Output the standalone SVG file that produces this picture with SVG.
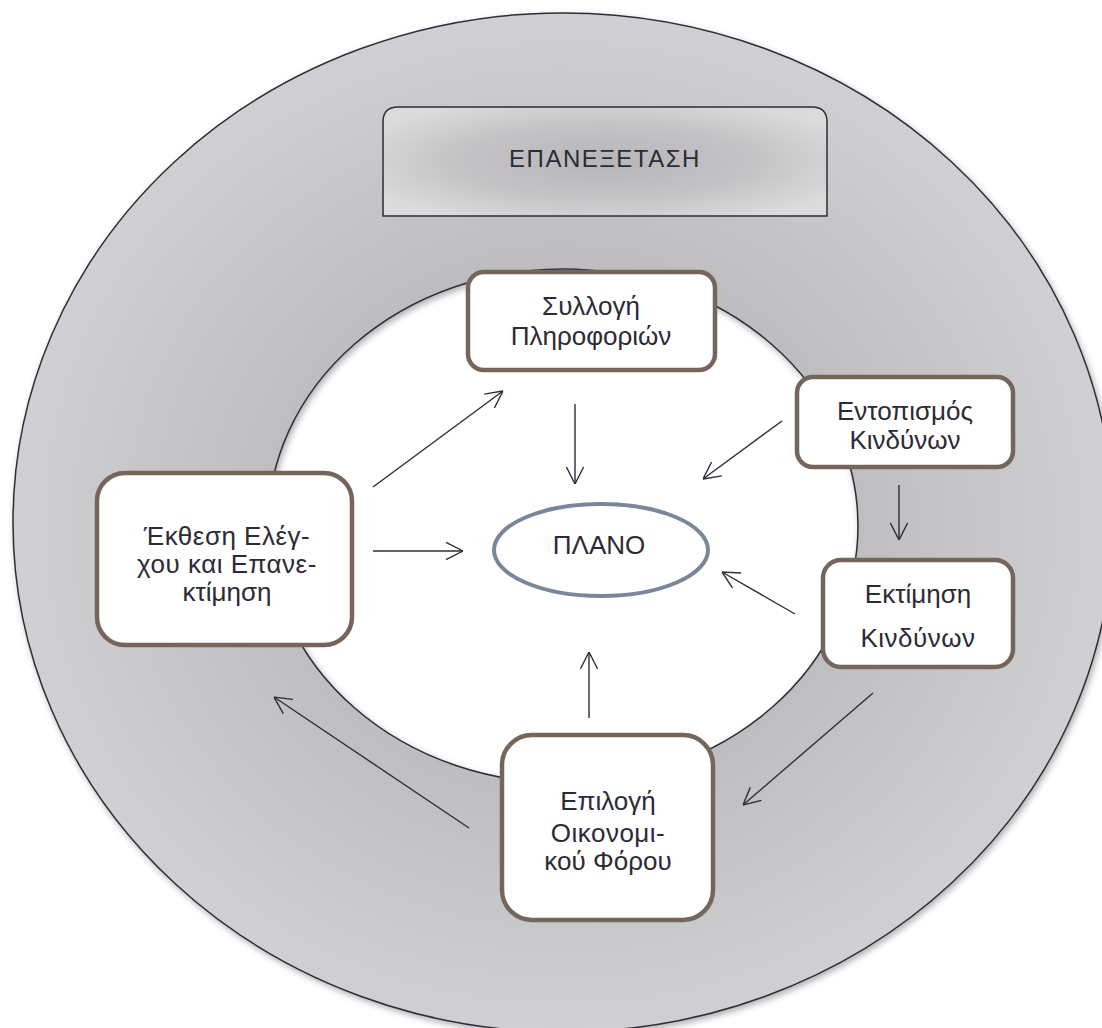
<svg xmlns="http://www.w3.org/2000/svg" width="1102" height="1028" viewBox="0 0 1102 1028">
  <style>
    .lbl { font-family: "Liberation Sans", Arial, sans-serif; font-size: 26px; fill: #2b2b36; text-anchor: middle; }
    .title { font-size: 24px; letter-spacing: 1.5px; }
    .box { fill: #ffffff; stroke: #76655a; stroke-width: 4.5; }
    .edge { stroke: #2d2d3a; stroke-width: 1.4; fill: none; marker-end: url(#head); }
  </style>
  <defs>
    <radialGradient id="ringFill" cx="0.5" cy="0.5" r="0.5">
      <stop offset="0.5" stop-color="#bdbdc0"/>
      <stop offset="1" stop-color="#d0d0d2"/>
    </radialGradient>
    <radialGradient id="bannerFill" cx="0.5" cy="0.5" r="0.6">
      <stop offset="0" stop-color="#b6b6b8"/>
      <stop offset="0.55" stop-color="#c3c3c5"/>
      <stop offset="1" stop-color="#dbdbdc"/>
    </radialGradient>
    <filter id="softShadow" x="-5%" y="-5%" width="110%" height="110%">
      <feDropShadow dx="2" dy="3" stdDeviation="3" flood-color="#000000" flood-opacity="0.3"/>
    </filter>
    <marker id="head" markerUnits="userSpaceOnUse" viewBox="0 0 20 20" markerWidth="20" markerHeight="20" refX="20" refY="10" orient="auto">
      <path d="M3,1.4 L20,10 L3,18.6" fill="none" stroke="#2d2d3a" stroke-width="1.4"/>
    </marker>
  </defs>

  <!-- review ring -->
  <g id="ring">
    <path d="M13,522.5 a550,509.5 0 1,0 1100,0 a550,509.5 0 1,0 -1100,0 Z M268,526 a295,257 0 1,0 590,0 a295,257 0 1,0 -590,0 Z"
          fill="url(#ringFill)" fill-rule="evenodd" stroke="#2d2d3a" stroke-width="1.5" filter="url(#softShadow)"/>
  </g>

  <!-- review banner -->
  <g id="review">
    <path d="M383,216 L383,122 Q383,107 398,107 L812,107 Q827,107 827,122 L827,216 Z" fill="url(#bannerFill)" stroke="#2d2d3a" stroke-width="1.5"/>
    <text class="lbl title" x="605" y="167">ΕΠΑΝΕΞΕΤΑΣΗ</text>
  </g>

  <!-- connectors -->
  <g id="connectors">
    <line class="edge" x1="373" y1="487" x2="503" y2="391"/>
    <line class="edge" x1="575" y1="404" x2="575" y2="484"/>
    <line class="edge" x1="782" y1="421" x2="703" y2="479"/>
    <line class="edge" x1="899" y1="485" x2="899" y2="540"/>
    <line class="edge" x1="795" y1="614" x2="722" y2="572"/>
    <line class="edge" x1="373" y1="551" x2="463" y2="551"/>
    <line class="edge" x1="589" y1="718" x2="589" y2="652"/>
    <line class="edge" x1="873" y1="693" x2="743" y2="805"/>
    <line class="edge" x1="469" y1="828" x2="274" y2="697"/>
  </g>

  <!-- nodes -->
  <g id="collect">
    <rect class="box" x="468" y="272" width="247" height="98" rx="16"/>
    <text class="lbl" x="591" y="315">Συλλογή</text>
    <text class="lbl" x="591" y="345">Πληροφοριών</text>
  </g>

  <g id="identify">
    <rect class="box" x="797" y="377" width="216" height="90" rx="16"/>
    <text class="lbl" x="905" y="420">Εντοπισμός</text>
    <text class="lbl" x="905" y="449">Κινδύνων</text>
  </g>

  <g id="assess">
    <rect class="box" x="823" y="560" width="190" height="107" rx="18"/>
    <text class="lbl" x="918" y="603">Εκτίμηση</text>
    <text class="lbl" x="918" y="647" letter-spacing="0.5">Κινδύνων</text>
  </g>

  <g id="plan">
    <ellipse cx="601" cy="550" rx="107" ry="46" fill="#ffffff" stroke="#7a8799" stroke-width="4"/>
    <text class="lbl" x="599" y="554">ΠΛΑΝΟ</text>
  </g>

  <g id="report">
    <rect class="box" x="97" y="473" width="255" height="172" rx="28"/>
    <text class="lbl" x="227" y="545" letter-spacing="0.5">Έκθεση Ελέγ-</text>
    <text class="lbl" x="227" y="573" letter-spacing="0.5">χου και Επανε-</text>
    <text class="lbl" x="227" y="601">κτίμηση</text>
  </g>

  <g id="select">
    <rect class="box" x="502" y="735" width="211" height="185" rx="30"/>
    <text class="lbl" x="608" y="810">Επιλογή</text>
    <text class="lbl" x="608" y="842" letter-spacing="0.5">Οικονομι-</text>
    <text class="lbl" x="608" y="870">κού Φόρου</text>
  </g>
</svg>
